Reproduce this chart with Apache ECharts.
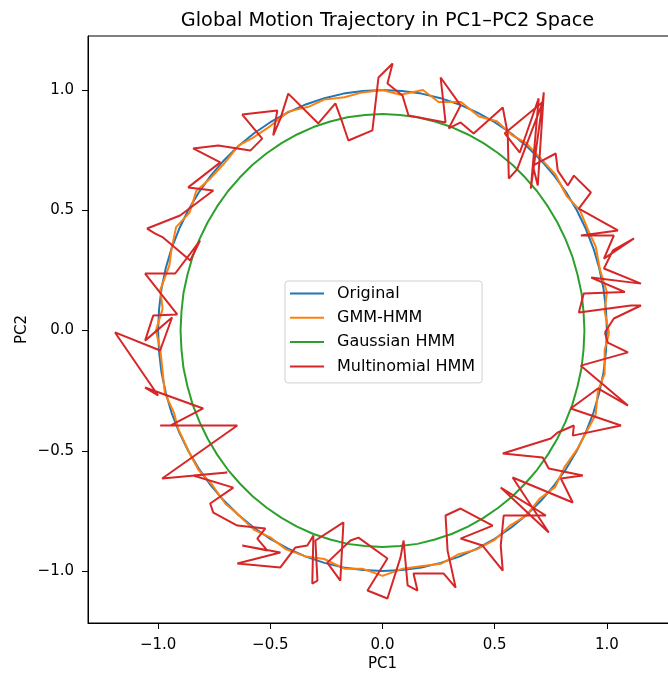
<!DOCTYPE html>
<html>
<head>
<meta charset="utf-8">
<script src="https://cdn.jsdelivr.net/npm/echarts@6/dist/echarts.min.js"></script>
<style>
html,body{margin:0;padding:0;background:#fff;overflow:hidden;}
#chart{width:668px;height:673px;}
</style>
</head>
<body>
<div id="chart"></div>
<script>
// ---- data ----
const seriesNames = ["Original", "GMM-HMM", "Gaussian HMM", "Multinomial HMM"];
const tickValues = [-1.0, -0.5, 0.0, 0.5, 1.0];

const originalPts = [
[1,0],[0.996,0.087],[0.985,0.174],[0.966,0.259],[0.94,0.342],[0.906,0.423],[0.866,0.5],[0.819,0.574],[0.766,0.643],[0.707,0.707],
[0.643,0.766],[0.574,0.819],[0.5,0.866],[0.423,0.906],[0.342,0.94],[0.259,0.966],[0.174,0.985],[0.087,0.996],[0,1],
[-0.087,0.996],[-0.174,0.985],[-0.259,0.966],[-0.342,0.94],[-0.423,0.906],[-0.5,0.866],[-0.574,0.819],[-0.643,0.766],[-0.707,0.707],
[-0.766,0.643],[-0.819,0.574],[-0.866,0.5],[-0.906,0.423],[-0.94,0.342],[-0.966,0.259],[-0.985,0.174],[-0.996,0.087],[-1,0],
[-0.996,-0.087],[-0.985,-0.174],[-0.966,-0.259],[-0.94,-0.342],[-0.906,-0.423],[-0.866,-0.5],[-0.819,-0.574],[-0.766,-0.643],[-0.707,-0.707],
[-0.643,-0.766],[-0.574,-0.819],[-0.5,-0.866],[-0.423,-0.906],[-0.342,-0.94],[-0.259,-0.966],[-0.174,-0.985],[-0.087,-0.996],[0,-1],
[0.087,-0.996],[0.174,-0.985],[0.259,-0.966],[0.342,-0.94],[0.423,-0.906],[0.5,-0.866],[0.574,-0.819],[0.643,-0.766],[0.707,-0.707],
[0.766,-0.643],[0.819,-0.574],[0.866,-0.5],[0.906,-0.423],[0.94,-0.342],[0.966,-0.259],[0.985,-0.174],[0.996,-0.087],[1,0]
];

const gmmPts = [
[1.01,-0.01],[0.99,0.08],[1.0,0.16],[0.97,0.25],[0.95,0.35],[0.92,0.41],[0.88,0.5],[0.82,0.56],[0.77,0.65],[0.72,0.7],
[0.64,0.78],[0.58,0.81],[0.51,0.87],[0.43,0.89],[0.35,0.95],[0.25,0.95],[0.18,1.0],[0.08,0.98],[0.0,1.0],
[-0.09,0.99],[-0.17,0.97],[-0.26,0.96],[-0.33,0.93],[-0.42,0.91],[-0.5,0.85],[-0.58,0.8],[-0.64,0.77],[-0.71,0.69],
[-0.77,0.63],[-0.83,0.58],[-0.86,0.49],[-0.92,0.43],[-0.94,0.34],[-0.95,0.27],[-0.99,0.17],[-0.98,0.09],[-1.01,0.0],
[-0.99,-0.08],[-0.98,-0.17],[-0.97,-0.26],[-0.93,-0.34],[-0.91,-0.41],[-0.86,-0.51],[-0.82,-0.58],[-0.76,-0.64],[-0.7,-0.72],
[-0.65,-0.76],[-0.57,-0.83],[-0.5,-0.86],[-0.43,-0.91],[-0.34,-0.94],[-0.26,-0.95],[-0.17,-0.99],[-0.09,-0.99],[0.0,-1.02],
[0.09,-0.99],[0.17,-0.98],[0.26,-0.97],[0.34,-0.93],[0.42,-0.91],[0.5,-0.87],[0.57,-0.81],[0.64,-0.77],[0.7,-0.7],
[0.77,-0.65],[0.81,-0.57],[0.87,-0.49],[0.91,-0.42],[0.95,-0.35],[0.96,-0.25],[0.99,-0.18],[0.99,-0.08],[1.01,-0.01]
];

const gaussianPts = [
[0.9,0],[0.896,0.078],[0.887,0.156],[0.869,0.233],[0.846,0.308],[0.815,0.381],[0.779,0.45],[0.737,0.516],[0.689,0.579],[0.636,0.636],
[0.579,0.689],[0.516,0.737],[0.45,0.779],[0.381,0.815],[0.308,0.846],[0.233,0.869],[0.156,0.887],[0.078,0.896],[0,0.9],
[-0.078,0.896],[-0.156,0.887],[-0.233,0.869],[-0.308,0.846],[-0.381,0.815],[-0.45,0.779],[-0.516,0.737],[-0.579,0.689],[-0.636,0.636],
[-0.689,0.579],[-0.737,0.516],[-0.779,0.45],[-0.815,0.381],[-0.846,0.308],[-0.869,0.233],[-0.887,0.156],[-0.896,0.078],[-0.9,0],
[-0.896,-0.078],[-0.887,-0.156],[-0.869,-0.233],[-0.846,-0.308],[-0.815,-0.381],[-0.779,-0.45],[-0.737,-0.516],[-0.689,-0.579],[-0.636,-0.636],
[-0.579,-0.689],[-0.516,-0.737],[-0.45,-0.779],[-0.381,-0.815],[-0.308,-0.846],[-0.233,-0.869],[-0.156,-0.887],[-0.078,-0.896],[0,-0.9],
[0.078,-0.896],[0.156,-0.887],[0.233,-0.869],[0.308,-0.846],[0.381,-0.815],[0.45,-0.779],[0.516,-0.737],[0.579,-0.689],[0.636,-0.636],
[0.689,-0.579],[0.737,-0.516],[0.779,-0.45],[0.815,-0.381],[0.846,-0.308],[0.869,-0.233],[0.887,-0.156],[0.896,-0.078],[0.9,0]
];

const multinomialPts = [
[0.991,-0.008],[1.031,0.05],[1.152,0.104],[1.107,0.104],[0.875,0.075],[0.897,0.154],[1.08,0.16],[0.93,0.22],[1.152,0.195],[0.987,0.258],[1.027,0.333],[1.121,0.383],
[0.987,0.299],[1.031,0.395],[0.884,0.395],[1.049,0.416],[0.875,0.507],[0.929,0.574],[0.853,0.644],[0.826,0.603],[0.781,0.665],[0.772,0.736],
[0.67,0.686],[0.692,0.603],[0.719,0.99],[0.661,0.59],[0.696,0.965],[0.612,0.74],[0.545,0.82],[0.714,0.95],[0.6,0.67],[0.563,0.632],[0.558,0.819],[0.536,0.927],[0.406,0.819],[0.348,0.865],
[0.295,0.84],[0.348,0.936],[0.259,1.052],[0.281,0.865],[0.116,0.894],[0.089,0.977],[0.022,1.027],[0.045,1.11],[-0.018,1.052],[-0.045,0.832],
[-0.152,0.79],[-0.179,0.865],[-0.21,0.944],[-0.286,0.861],[-0.42,0.985],[-0.455,0.881],[-0.487,0.811],[-0.469,0.915],[-0.625,0.898],[-0.536,0.798],
[-0.589,0.748],[-0.732,0.769],[-0.844,0.757],[-0.723,0.699],[-0.866,0.595],[-0.754,0.582],[-0.902,0.478],[-1.049,0.424],[-1.013,0.403],[-0.978,0.387],
[-0.857,0.291],[-0.813,0.374],[-0.924,0.237],[-1.058,0.237],[-0.915,0.067],[-1.022,0.062],[-1.058,-0.042],[-0.938,0.054],[-0.991,-0.083],[-1.192,-0.008],
[-1.0,-0.27],[-1.058,-0.237],[-0.799,-0.324],[-0.946,-0.395],[-0.991,-0.395],[-0.647,-0.395],[-0.982,-0.615],[-0.692,-0.59],[-0.844,-0.603],[-0.665,-0.653],
[-0.768,-0.719],[-0.754,-0.757],[-0.647,-0.811],[-0.522,-0.823],[-0.558,-0.865],[-0.513,-0.915],[-0.625,-0.894],[-0.455,-0.923],[-0.647,-0.969],[-0.455,-0.985],
[-0.388,-0.902],[-0.335,-0.894],[-0.308,-0.852],[-0.313,-1.052],[-0.29,-1.04],[-0.299,-0.873],[-0.174,-0.798],[-0.188,-1.04],[-0.246,-0.965],[-0.143,-0.873],
[-0.107,-0.861],[0.022,-0.948],[-0.067,-1.081],[0.022,-1.114],[0.08,-0.944],[0.094,-0.873],[0.112,-1.06],[0.156,-1.081],[0.138,-1.01],[0.272,-1.01],
[0.326,-1.069],[0.29,-0.915],[0.281,-0.769],[0.348,-0.74],[0.491,-0.811],[0.348,-0.865],[0.446,-0.894],[0.536,-0.998],[0.527,-0.894],[0.54,-0.769],
[0.728,-0.769],[0.527,-0.653],[0.741,-0.84],[0.58,-0.611],[0.848,-0.715],[0.795,-0.615],[0.893,-0.603],[0.741,-0.574],[0.714,-0.528],[0.536,-0.511],
[0.75,-0.449],[0.781,-0.424],[0.853,-0.395],[0.848,-0.437],[1.063,-0.395],[0.839,-0.324],[0.96,-0.241],[1.094,-0.312],[0.884,-0.146],[1.094,-0.091],
[1.004,-0.05],[0.991,-0.008]
];

const colors = ["#1f77b4", "#ff7f0e", "#2ca02c", "#d62728"];
const allData = [originalPts, gmmPts, gaussianPts, multinomialPts];

function fmt(v) {
  return v.toFixed(1).replace('-', '\u2212');
}

const chart = echarts.init(document.getElementById('chart'), null, {renderer: 'canvas'});
const font = 'DejaVu Sans';
chart.setOption({
  animation: false,
  backgroundColor: '#ffffff',
  title: {
    text: 'Global Motion Trajectory in PC1\u2013PC2 Space',
    left: 382.5, top: 6, textAlign: 'center',
    textStyle: {fontFamily: font, fontSize: 19.3, fontWeight: 'normal', color: '#000'}
  },
  grid: {left: 88, top: 36, width: 589, height: 587, outerBoundsMode: 'none', containLabel: false,
         show: true, borderColor: '#000', borderWidth: 1, backgroundColor: 'transparent'},
  legend: {
    orient: 'vertical', left: 285, top: 281,
    data: seriesNames,
    icon: 'rect', itemWidth: 34, itemHeight: 2, itemGap: 7.3,
    backgroundColor: '#fff', borderColor: '#d0d0d0', borderWidth: 1, borderRadius: 3,
    padding: [4, 7, 8, 5],
    textStyle: {fontFamily: font, fontSize: 16, lineHeight: 17, color: '#000', padding: [0, 0, 0, 8]}
  },
  xAxis: {
    type: 'value', min: -1.3125, max: 1.3125,
    name: 'PC1', nameLocation: 'middle', nameGap: 34, nameMoveOverlap: false,
    nameTextStyle: {fontFamily: font, fontSize: 15, color: '#000'},
    axisLine: {show: true, onZero: false, lineStyle: {color: '#000', width: 1}},
    axisTick: {show: true, customValues: tickValues, length: 6, inside: false, lineStyle: {color: '#000'}},
    axisLabel: {show: true, customValues: tickValues, formatter: fmt, fontFamily: font, fontSize: 15, color: '#000', margin: 15},
    splitLine: {show: false}
  },
  yAxis: {
    type: 'value', min: -1.216, max: 1.2245,
    name: 'PC2', nameLocation: 'middle', nameGap: 58, nameRotate: 90, nameMoveOverlap: false,
    nameTextStyle: {fontFamily: font, fontSize: 15, color: '#000'},
    axisLine: {show: true, onZero: false, lineStyle: {color: '#000', width: 1}},
    axisTick: {show: true, customValues: tickValues, length: 6, inside: false, lineStyle: {color: '#000'}},
    axisLabel: {show: true, customValues: tickValues, formatter: fmt, fontFamily: font, fontSize: 15, color: '#000', margin: 14},
    splitLine: {show: false}
  },
  series: seriesNames.map((n, i) => ({
    name: n, type: 'line', data: allData[i],
    showSymbol: false, symbol: 'none',
    color: colors[i],
    lineStyle: {color: colors[i], width: 2},
    z: 2 + i
  }))
});
</script>
</body>
</html>
